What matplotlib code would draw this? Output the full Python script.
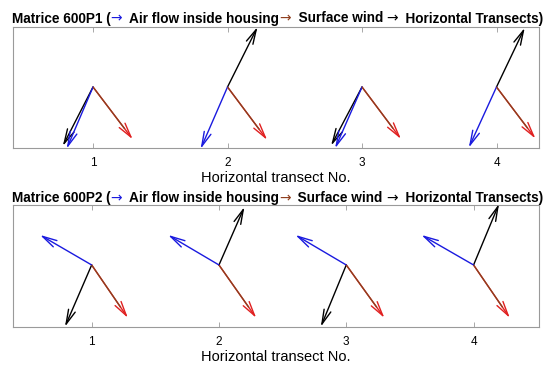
import matplotlib
matplotlib.use("Agg")
import matplotlib.pyplot as plt
from matplotlib.patches import FancyArrowPatch

plt.rcParams['font.family'] = ['Liberation Sans', 'DejaVu Sans']

transects = [1, 2, 3, 4]

# Panel 1 : Matrice 600P1
p1_air_u = [-0.196, -0.200, -0.200, -0.206]
p1_air_v = [-0.459, -0.460, -0.456, -0.451]
p1_wind_u = [0.295, 0.295, 0.290, 0.290]
p1_wind_v = [-0.389, -0.394, -0.387, -0.384]
p1_tr_u = [-0.225, 0.223, -0.230, 0.210]
p1_tr_v = [-0.439, 0.446, -0.436, 0.440]

# Panel 2 : Matrice 600P2
p2_air_u = [-0.406, -0.400, -0.400, -0.410]
p2_air_v = [0.236, 0.236, 0.236, 0.236]
p2_wind_u = [0.285, 0.293, 0.300, 0.285]
p2_wind_v = [-0.416, -0.416, -0.416, -0.416]
p2_tr_u = [-0.210, 0.200, -0.200, 0.200]
p2_tr_v = [-0.485, 0.456, -0.485, 0.480]

BLUE = '#1a1adf'
BROWN = '#8f3f1f'
RED = '#e02020'
BLACK = '#000000'
FRAME = '#9a9a9a'

fig = plt.figure(figsize=(5.5, 3.7), dpi=100)


def arrow(ax, x, y, u, v, color, shaft=None):
    a = FancyArrowPatch((x, y), (x + u, y + v),
                        arrowstyle='->,head_length=1.05,head_width=0.26',
                        mutation_scale=10, color=color, lw=1.0,
                        shrinkA=0, shrinkB=0, zorder=3)
    ax.add_patch(a)
    if shaft is not None:
        ax.plot([x, x + 0.8 * u], [y, y + 0.8 * v], color=shaft, lw=1.0,
                zorder=4, solid_capstyle='butt')


def panel(rect, xlim, ylim, air_u, air_v, wind_u, wind_v, tr_u, tr_v):
    ax = fig.add_axes(rect)
    for i, x in enumerate(transects):
        arrow(ax, x, 0, wind_u[i], wind_v[i], RED, shaft=BROWN)
        arrow(ax, x, 0, tr_u[i], tr_v[i], BLACK)
        arrow(ax, x, 0, air_u[i], air_v[i], BLUE)
    ax.set_xlim(*xlim)
    ax.set_ylim(*ylim)
    ax.set_xticks(transects)
    ax.set_xticklabels([str(t) for t in transects], fontsize=8.5)
    ax.set_yticks([])
    ax.tick_params(axis='x', direction='in', top=True, bottom=True,
                   length=3.5, width=0.6, color=FRAME, pad=6.5)
    for s in ax.spines.values():
        s.set_color(FRAME)
        s.set_linewidth(0.8)
    ax.set_xlabel('Horizontal transect No.', fontsize=10.5, labelpad=1.5)
    return ax


def colored_title(y_px, name):
    pieces = [(name + ' (', BLACK, 'bold', 9.8, 'Liberation Sans'),
              ('\u2192', BLUE, 'normal', 10, 'DejaVu Sans'),
              ('  Air flow inside housing', BLACK, 'bold', 9.8, 'Liberation Sans'),
              ('\u2192', BROWN, 'normal', 10, 'DejaVu Sans'),
              ('  Surface wind ', BLACK, 'bold', 9.8, 'Liberation Sans'),
              ('\u2192', BLACK, 'normal', 10, 'DejaVu Sans'),
              ('  Horizontal Transects)', BLACK, 'bold', 9.8, 'Liberation Sans')]
    texts = []
    for s, c, w, fs, fam in pieces:
        t = fig.text(0, 1 - y_px / 370.0, s, color=c, fontweight=w,
                     fontsize=fs, va='baseline', ha='left',
                     family=[fam, 'DejaVu Sans'])
        texts.append(t)
    fig.canvas.draw()
    r = fig.canvas.get_renderer()
    widths = [t.get_window_extent(r).width for t in texts]
    total = sum(widths)
    x0 = 277.5 - total / 2.0
    for t, w in zip(texts, widths):
        t.set_x(x0 / 550.0)
        x0 += w


panel([13 / 550, (370 - 148) / 370, 526 / 550, 121 / 370],
      (0.405, 4.316), (-0.4535, 0.446),
      p1_air_u, p1_air_v, p1_wind_u, p1_wind_v, p1_tr_u, p1_tr_v)
panel([13 / 550, (370 - 327) / 370, 526 / 550, 122 / 370],
      (0.382, 4.514), (-0.487, 0.471),
      p2_air_u, p2_air_v, p2_wind_u, p2_wind_v, p2_tr_u, p2_tr_v)

colored_title(22.5, 'Matrice 600P1')
colored_title(202, 'Matrice 600P2')

fig.savefig('out.png', dpi=100)
